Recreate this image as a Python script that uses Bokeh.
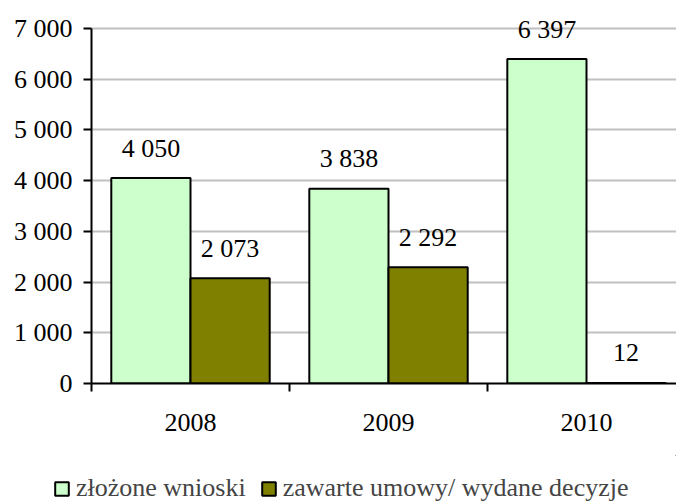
from bokeh.plotting import figure
from bokeh.models import ColumnDataSource, FixedTicker, Legend, LegendItem
from bokeh.layouts import column, row
from bokeh.transform import dodge
from bokeh.core.properties import value
from bokeh.embed import file_html
from bokeh.resources import INLINE

years = ["2008", "2009", "2010"]
wnioski = [4050, 3838, 6397]
umowy = [2073, 2292, 12]
wnioski_labels = ["4 050", "3 838", "6 397"]
umowy_labels = ["2 073", "2 292", "12"]
y_ticks = [0, 1000, 2000, 3000, 4000, 5000, 6000, 7000]
y_tick_labels = ["0", "1 000", "2 000", "3 000", "4 000", "5 000", "6 000", "7 000"]
series_names = ["złożone wnioski", "zawarte umowy/ wydane decyzje"]

FONT = "Liberation Serif"
FS = "26px"
GREEN = "#CCFFCC"
OLIVE = "#808000"

idx = list(range(len(years)))
src = ColumnDataSource(dict(x=idx, w=wnioski, u=umowy, wl=wnioski_labels, ul=umowy_labels))

p = figure(width=676, height=455, output_backend="svg", toolbar_location=None,
           x_range=(-0.5, 2.4545), y_range=(0, 7394),
           min_border_left=91, min_border_right=0, min_border_top=8, min_border_bottom=72)
p.outline_line_color = None
p.background_fill_color = "white"
p.border_fill_color = "white"

r1 = p.vbar(x=dodge("x", -0.2), top="w", width=0.4, source=src,
            fill_color=GREEN, line_color="black", line_width=2)
r2 = p.vbar(x=dodge("x", 0.2), top="u", width=0.4, source=src,
            fill_color=OLIVE, line_color="black", line_width=2)

p.text(x=dodge("x", -0.2), y="w", text="wl", source=src, text_align="center",
       text_baseline="alphabetic", y_offset=-30, text_font=value(FONT),
       text_font_size=FS, text_color="black")
p.text(x=dodge("x", 0.2), y="u", text="ul", source=src, text_align="center",
       text_baseline="alphabetic", y_offset=-30, text_font=value(FONT),
       text_font_size=FS, text_color="black")

# grid
p.xgrid.grid_line_color = None
p.ygrid.grid_line_color = "#C0C0C0"
p.ygrid.grid_line_width = 2
p.ygrid.ticker = FixedTicker(ticks=y_ticks)

# y axis
ya = p.yaxis[0]
ya.ticker = FixedTicker(ticks=y_ticks)
ya.bounds = (y_ticks[0], y_ticks[-1])
ya.major_label_overrides = {t: l for t, l in zip(y_ticks, y_tick_labels)}
ya.axis_line_width = 2
ya.axis_line_color = "black"
ya.major_tick_line_width = 2
ya.major_tick_out = 8
ya.major_tick_in = 0
ya.minor_tick_line_color = None
ya.major_label_standoff = 11
ya.major_label_text_font = FONT
ya.major_label_text_font_size = FS
ya.major_label_text_color = "black"

# x axis
xa = p.xaxis[0]
xa.ticker = FixedTicker(ticks=idx, minor_ticks=[i - 0.5 for i in idx] + [idx[-1] + 0.5])
xa.major_label_overrides = {i: y for i, y in zip(idx, years)}
xa.axis_line_width = 2
xa.axis_line_color = "black"
xa.major_tick_line_color = None
xa.major_tick_out = 0
xa.major_tick_in = 0
xa.minor_tick_line_width = 2
xa.minor_tick_line_color = "black"
xa.minor_tick_out = 8
xa.minor_tick_in = 0
xa.major_label_standoff = 22
xa.major_label_text_font = FONT
xa.major_label_text_font_size = FS
xa.major_label_text_color = "black"

# legend in a separate strip below the chart
pl = figure(width=676, height=48, output_backend="svg", toolbar_location=None,
            x_axis_type=None, y_axis_type=None,
            x_range=(0, 1), y_range=(0, 1),
            min_border_left=0, min_border_right=0, min_border_top=0, min_border_bottom=0)
pl.outline_line_color = None
pl.border_fill_color = "white"
pl.background_fill_color = "white"
l1 = pl.vbar(x=[5], top=[5], bottom=[4], width=0.1, fill_color=GREEN, line_color="black", line_width=2)
l2 = pl.vbar(x=[5], top=[5], bottom=[4], width=0.1, fill_color=OLIVE, line_color="black", line_width=2)
legend = Legend(items=[LegendItem(label=series_names[0], renderers=[l1]),
                       LegendItem(label=series_names[1], renderers=[l2])],
                orientation="horizontal", location=(53, 0),
                padding=0, margin=0, spacing=14, label_standoff=6,
                glyph_width=17, glyph_height=17,
                label_text_font=FONT, label_text_font_size=FS,
                border_line_color=None, background_fill_alpha=0)
pl.add_layout(legend, "center")

open("out.html", "w").write(file_html(column(p, row(pl, spacing=0), spacing=0), INLINE))
